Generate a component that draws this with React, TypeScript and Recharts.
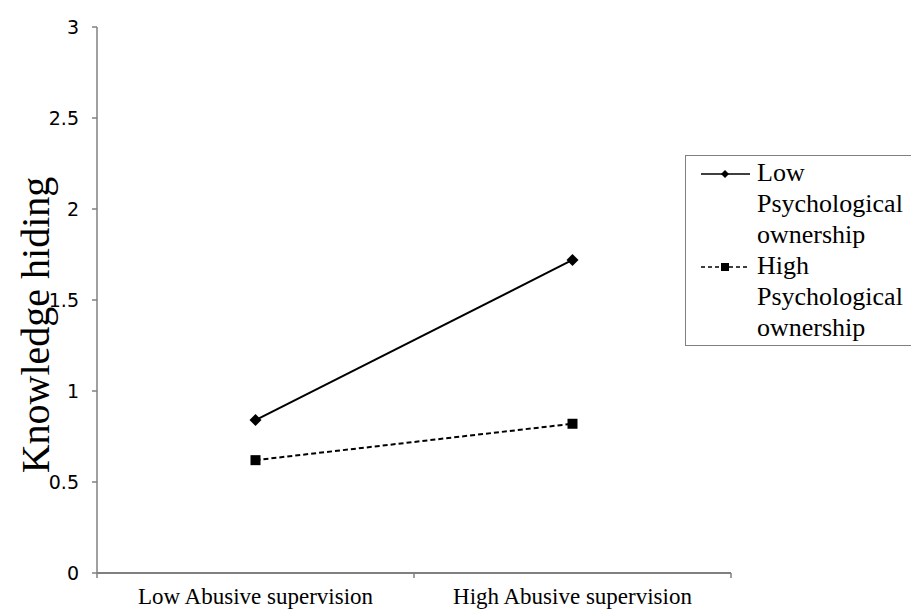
import React from "react";
import { LineChart, Line, XAxis, YAxis, Legend } from "recharts";

const categories = ["Low Abusive supervision", "High Abusive supervision"];
const lowPO = [0.84, 1.72];
const highPO = [0.62, 0.82];
const yTicks = [0, 0.5, 1, 1.5, 2, 2.5, 3];
const seriesNames = ["Low Psychological ownership", "High Psychological ownership"];
const yTitle = "Knowledge hiding";

const data = categories.map((c, i) => ({ group: c, low: lowPO[i], high: highPO[i] }));

const AXIS = "#808080";
const SERIF = "Liberation Serif, Tinos, DejaVu Serif, Noto Serif, Times New Roman, serif";
const SANS = "DejaVu Sans, Verdana, sans-serif";

const Diamond = (props: any) => {
  const { cx, cy } = props;
  if (cx == null || cy == null) return null;
  const r = 6;
  return (
    <polygon
      key={`d-${cx}-${cy}`}
      points={`${cx},${cy - r} ${cx + r},${cy} ${cx},${cy + r} ${cx - r},${cy}`}
      fill="#000"
    />
  );
};

const Square = (props: any) => {
  const { cx, cy } = props;
  if (cx == null || cy == null) return null;
  const s = 10;
  return <rect key={`s-${cx}-${cy}`} x={cx - s / 2} y={cy - s / 2} width={s} height={s} fill="#000" />;
};

const CatTick = (props: any) => {
  const { x, y, payload, index, width, visibleTicksCount } = props;
  const n = visibleTicksCount || categories.length;
  const half = width / (2 * n);
  const isLast = index === n - 1;
  return (
    <g>
      <line x1={x - half} x2={x - half} y1={y} y2={y + 5} stroke={AXIS} strokeWidth={1.5} />
      {isLast && <line x1={x + half} x2={x + half} y1={y} y2={y + 5} stroke={AXIS} strokeWidth={1.5} />}
      <text x={x} y={y + 31} textAnchor="middle" style={{ fontFamily: SERIF }} fontSize={23} fill="#000">
        {payload.value}
      </text>
    </g>
  );
};

const YLabel = (props: any) => {
  const vb = props.viewBox || {};
  const cx = (vb.x || 0) + 49;
  const cy = (vb.y || 0) + (vb.height || 0) / 2 + 25;
  return (
    <text
      x={cx}
      y={cy}
      transform={`rotate(-90, ${cx}, ${cy})`}
      textAnchor="middle"
      style={{ fontFamily: SERIF }}
      fontSize={40}
      fill="#000"
    >
      {yTitle}
    </text>
  );
};

const LegendContent = () => {
  const entries = [
    { name: seriesNames[0], dash: undefined as string | undefined, marker: "diamond" },
    { name: seriesNames[1], dash: "4 3", marker: "square" },
  ];
  return (
    <div
      style={{
        border: `1.5px solid ${AXIS}`,
        background: "#fff",
        padding: "1px 0 2px 14px",
        width: 260,
        boxSizing: "border-box",
        fontFamily: SERIF,
        fontSize: 26,
        lineHeight: "31px",
        color: "#000",
      }}
    >
      {entries.map((e) => (
        <div key={e.name} style={{ display: "flex", alignItems: "flex-start" }}>
          <svg width={52} height={31} style={{ flex: "none", marginRight: 5 }}>
            <line x1={1} x2={50} y1={17} y2={17} stroke="#000" strokeWidth={1.5} strokeDasharray={e.dash} />
            {e.marker === "diamond" ? (
              <polygon points="25,13 29,17 25,21 21,17" fill="#000" />
            ) : (
              <rect x={21} y={13} width={8} height={8} fill="#000" />
            )}
          </svg>
          <div style={{ width: 160 }}>{e.name}</div>
        </div>
      ))}
    </div>
  );
};

export default function App() {
  return (
    <div
      style={{
        position: "absolute",
        left: 0,
        top: 0,
        width: 911,
        height: 610,
        overflow: "hidden",
        background: "#fff",
      }}
    >
      <LineChart width={911} height={610} data={data} margin={{ top: 27, right: 180, left: 0, bottom: 0 }}>
        <XAxis
          dataKey="group"
          scale="band"
          height={37}
          axisLine={{ stroke: AXIS, strokeWidth: 2 }}
          tickLine={false}
          tickSize={0}
          tickMargin={0}
          tick={<CatTick />}
          interval={0}
        />
        <YAxis
          width={97}
          domain={[0, 3]}
          ticks={yTicks}
          axisLine={{ stroke: AXIS, strokeWidth: 1.5 }}
          tickLine={{ stroke: AXIS, strokeWidth: 1.5 }}
          tickSize={5}
          tickMargin={13}
          tick={{ fill: "#000", fontFamily: SANS, fontSize: 19 }}
          label={{ content: YLabel as any }}
        />
        <Legend
          layout="vertical"
          align="center"
          verticalAlign="middle"
          content={<LegendContent />}
          wrapperStyle={{ left: 685, top: 155, width: 260 }}
        />
        <Line
          type="linear"
          dataKey="low"
          name={seriesNames[0]}
          stroke="#000"
          strokeWidth={2}
          dot={<Diamond />}
          activeDot={false}
          isAnimationActive={false}
        />
        <Line
          type="linear"
          dataKey="high"
          name={seriesNames[1]}
          stroke="#000"
          strokeWidth={2}
          strokeDasharray="5 3"
          dot={<Square />}
          activeDot={false}
          isAnimationActive={false}
        />
      </LineChart>
    </div>
  );
}
